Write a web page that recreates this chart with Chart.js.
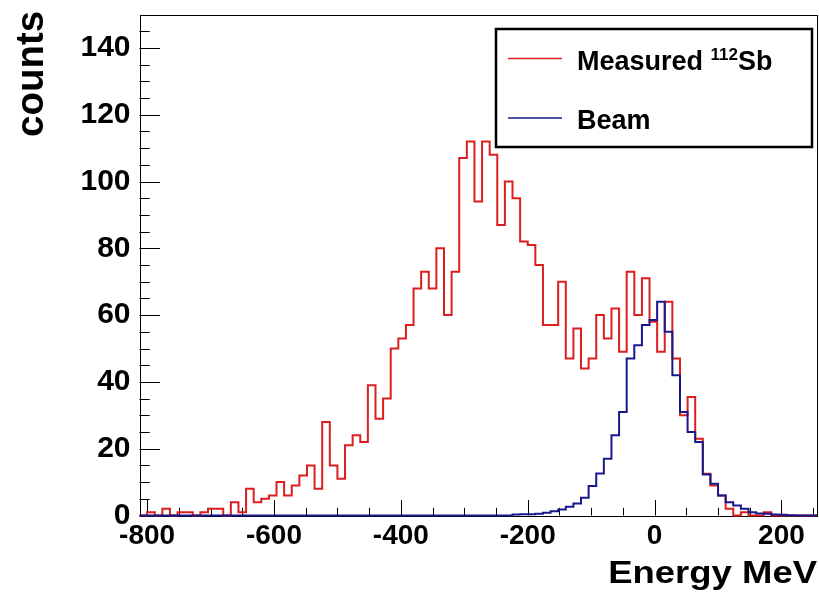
<!DOCTYPE html>
<html><head><meta charset="utf-8">
<script src="https://cdn.jsdelivr.net/npm/chart.js@4.4.1/dist/chart.umd.min.js"></script>
<style>html,body{margin:0;padding:0;background:#fff;}#wrap{width:819px;height:598px;position:relative;}</style>
</head><body><div id="wrap"><canvas id="c" width="819" height="598"></canvas></div>
<script>
// Histogram binning (MeV): first bin low edge and bin width
const binStart = -812;
const binWidth = 12;
// Measured 112Sb counts per bin (89 bins, -812 .. 256 MeV)
const measured = [
  0,1,0,2,0,1,1,0,1,2,
  2,0,4,1,8,4,5,6,10,6,
  9,12,15,8,28,15,11,21,24,22,
  39,29,35,50,53,57,68,73,68,80,
  60,73,107,112,94,112,108,87,100,95,
  82,81,75,57,57,70,47,56,44,47,
  60,53,62,49,73,60,71,58,49,64,
  47,30,35.5,23,12.5,9,6,2,0,1,
  0,0,1,0,0,0,0,0,0
];
// Beam counts per bin
const beam = [
  0,0,0,0,0,0,0,0,0,0,
  0,0,0,0,0,0,0,0,0,0,
  0,0,0,0,0,0,0,0,0,0,
  0,0,0,0,0,0,0,0,0,0,
  0,0,0,0,0,0,0,0,0,0.3,
  0.4,0.4,0.5,0.8,1.3,1.8,2.6,3.6,5.3,8.8,
  12.6,17,24,31,47,51,57,58.5,64,55,
  42,31,25,22,12.3,9.5,6,4,3,2,
  1,0.6,0.5,0.3,0.2,0.1,0,0,0
];
const xTicks = [-800,-600,-400,-200,0,200];
const yTicks = [0,20,40,60,80,100,120,140];
const xMinorTicks = [-800,-750,-700,-650,-600,-550,-500,-450,-400,-350,-300,-250,-200,-150,-100,-50,0,50,100,150,200,250];
const yMinorTicks = [0,5,10,15,20,25,30,35,40,45,50,55,60,65,70,75,80,85,90,95,100,105,110,115,120,125,130,135,140,145];
const legendLabels = ['Measured ', '112', 'Sb', 'Beam'];
const xTitle = 'Energy MeV';
const yTitle = 'counts';

const RED = '#dc1e1e', BLUE = '#18188c';
const FONT = '"Liberation Sans", Arial, Helvetica, sans-serif';

function toSteps(vals){
  const pts = vals.map((v,i)=>({x: binStart + i*binWidth, y: v}));
  pts.push({x: binStart + vals.length*binWidth, y: vals[vals.length-1]});
  return pts;
}

const framePlugin = {
  id: 'frame',
  beforeDatasetsDraw(chart){
    const {ctx, chartArea:a, scales:{x, y}} = chart;
    ctx.save();
    ctx.strokeStyle = '#000';
    ctx.lineWidth = 1;
    ctx.strokeRect(Math.round(a.left)+0.5, Math.round(a.top)+0.5, Math.round(a.right-a.left)-1, Math.round(a.bottom-a.top));
    ctx.beginPath();
    xMinorTicks.forEach(v=>{
      const px = Math.round(x.getPixelForValue(v))+0.5;
      const len = xTicks.includes(v) ? 15.5 : 7.7;
      ctx.moveTo(px, a.bottom); ctx.lineTo(px, a.bottom-len);
    });
    yMinorTicks.forEach(v=>{
      const py = Math.round(y.getPixelForValue(v))+0.5;
      const len = yTicks.includes(v) ? 20.5 : 10.2;
      ctx.moveTo(a.left, py); ctx.lineTo(a.left+len, py);
    });
    ctx.stroke();
    ctx.restore();
  },
  afterDraw(chart){
    const {ctx, chartArea:a} = chart;
    ctx.save();
    // axis titles
    ctx.fillStyle = '#000';
    ctx.textBaseline = 'alphabetic';
    ctx.font = 'bold 32px ' + FONT;
    ctx.save();
    ctx.translate(a.right, 583);
    ctx.scale(1.14, 1);
    ctx.textAlign = 'right';
    ctx.fillText(xTitle, 0, 0);
    ctx.restore();
    ctx.save();
    ctx.font = 'bold 38.5px ' + FONT;
    ctx.translate(43, 137);
    ctx.rotate(-Math.PI/2);
    ctx.textAlign = 'left';
    ctx.fillText(yTitle, 0, 0);
    ctx.restore();
    // legend
    ctx.fillStyle = '#fff';
    ctx.fillRect(496, 29, 316, 118);
    ctx.strokeStyle = '#000';
    ctx.lineWidth = 2.5;
    ctx.strokeRect(496, 29, 316, 118);
    ctx.lineWidth = 1.5;
    ctx.strokeStyle = RED;
    ctx.beginPath(); ctx.moveTo(508, 58.5); ctx.lineTo(562, 58.5); ctx.stroke();
    ctx.strokeStyle = BLUE;
    ctx.beginPath(); ctx.moveTo(508, 118); ctx.lineTo(562, 118); ctx.stroke();
    ctx.fillStyle = '#000';
    ctx.textAlign = 'left';
    ctx.font = 'bold 27px ' + FONT;
    let xx = 577;
    ctx.fillText(legendLabels[0], xx, 70);
    xx += ctx.measureText(legendLabels[0]).width;
    ctx.font = 'bold 17px ' + FONT;
    ctx.fillText(legendLabels[1], xx, 60);
    xx += ctx.measureText(legendLabels[1]).width;
    ctx.font = 'bold 27px ' + FONT;
    ctx.fillText(legendLabels[2], xx, 70);
    ctx.fillText(legendLabels[3], 577, 128.5);
    ctx.restore();
  }
};

new Chart(document.getElementById('c'), {
  type: 'line',
  data: {
    datasets: [
      {label: 'Beam', data: toSteps(beam), stepped: 'before', borderColor: BLUE, borderWidth: 2, pointRadius: 0, fill: false, order: 0, clip: 4},
      {label: 'Measured 112Sb', data: toSteps(measured), stepped: 'before', borderColor: RED, borderWidth: 2, pointRadius: 0, fill: false, order: 1, clip: 4}
    ]
  },
  options: {
    responsive: false,
    animation: false,
    devicePixelRatio: 1,
    layout: {padding: {top: 14.5, right: 2, left: 0, bottom: 0}},
    plugins: {legend: {display: false}, tooltip: {enabled: false}},
    scales: {
      x: {
        type: 'linear', min: binStart, max: binStart + measured.length*binWidth,
        afterBuildTicks: s => { s.ticks = xTicks.map(v=>({value: v})); },
        afterFit: s => { s.height = 82.5; s.paddingLeft = 0; s.paddingRight = 0; },
        grid: {display: false, drawTicks: false}, border: {display: false},
        ticks: {color: '#000', font: {family: FONT, size: 28, weight: 'bold'}, padding: 4, maxRotation: 0, autoSkip: false},
        title: {display: false}
      },
      y: {
        type: 'linear', min: 0, max: 150,
        afterBuildTicks: s => { s.ticks = yTicks.map(v=>({value: v})); },
        afterFit: s => { s.width = 139.5; s.paddingTop = 0; s.paddingBottom = 0; },
        grid: {display: false, drawTicks: false}, border: {display: false},
        ticks: {color: '#000', font: {family: FONT, size: 30, weight: 'bold'}, padding: 9, autoSkip: false},
        title: {display: false}
      }
    }
  },
  plugins: [framePlugin]
});
</script></body></html>
